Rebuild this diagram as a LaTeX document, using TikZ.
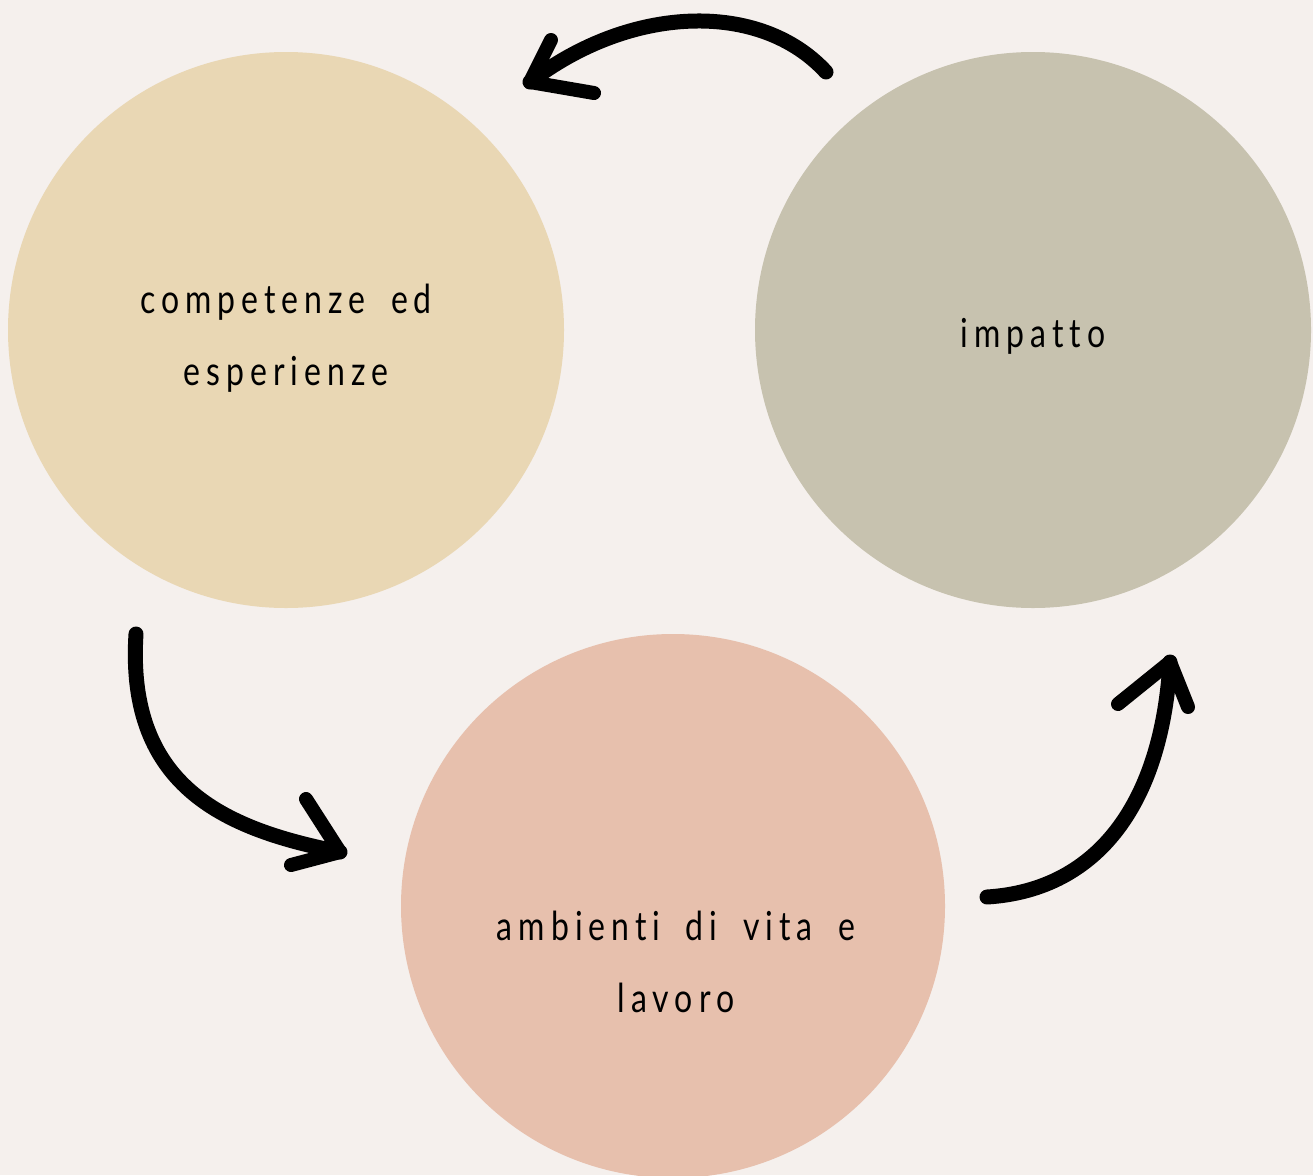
\documentclass[tikz,border=0pt]{standalone}
\usepackage{fontspec}
\newfontfamily\handfont[LetterSpace=15,FakeStretch=0.8,WordSpace=1.8,Ligatures=NoCommon]{Lato}
\definecolor{bgc}{HTML}{F5F0ED}
\definecolor{sand}{HTML}{E9D7B4}
\definecolor{sage}{HTML}{C7C2AF}
\definecolor{blush}{HTML}{E7C0AD}
\begin{document}
\begin{tikzpicture}[x=1pt,y=-1pt,
  bubble/.style={circle,inner sep=0pt},
  lbl/.style={align=center,inner sep=0pt,font=\handfont\fontsize{40}{72}\selectfont,text=black},
  stroke/.style={line width=15pt,line cap=round,line join=round,black},
  barb/.style={line width=14pt,line cap=round,black}]
\fill[bgc] (0,0) rectangle (1313,1175);
\useasboundingbox (0,0) rectangle (1313,1175);
\node[bubble,fill=sand,minimum size=556pt] (comp) at (286,330) {};
\node[bubble,fill=sage,minimum size=556pt] (imp) at (1033,330) {};
\node[bubble,fill=blush,minimum size=544pt] (amb) at (673,906) {};
\node[lbl] (comptxt) at (286,338) {competenze ed\\esperienze};
\node[lbl] (imptxt) at (1033,336) {impatto};
\node[lbl] (ambtxt) at (676,962) {ambienti di vita e\\lavoro};
% top arrow: impatto -> competenze
\coordinate (t0) at (826,72);
\coordinate (t1) at (530,82);
\draw[stroke] (t0) .. controls (760,0) and (630,5) .. (t1);
\coordinate (tb1) at (551,40);
\coordinate (tb2) at (594,93);
\draw[barb] (t1) -- (tb1);
\draw[barb] (t1) -- (tb2);
% left arrow: competenze -> ambienti
\coordinate (l0) at (136,634);
\coordinate (l1) at (340,852);
\draw[stroke] (l0) .. controls (126,790) and (230,830) .. (l1);
\coordinate (lb1) at (306,799);
\coordinate (lb2) at (291,865);
\draw[barb] (l1) -- (lb1);
\draw[barb] (l1) -- (lb2);
% right arrow: ambienti -> impatto
\coordinate (r0) at (987,897);
\coordinate (r1) at (1170,662);
\draw[stroke] (r0) .. controls (1100,890) and (1162,800) .. (r1);
\coordinate (rb1) at (1118,704);
\coordinate (rb2) at (1188,707);
\draw[barb] (r1) -- (rb1);
\draw[barb] (r1) -- (rb2);
\end{tikzpicture}
\end{document}
